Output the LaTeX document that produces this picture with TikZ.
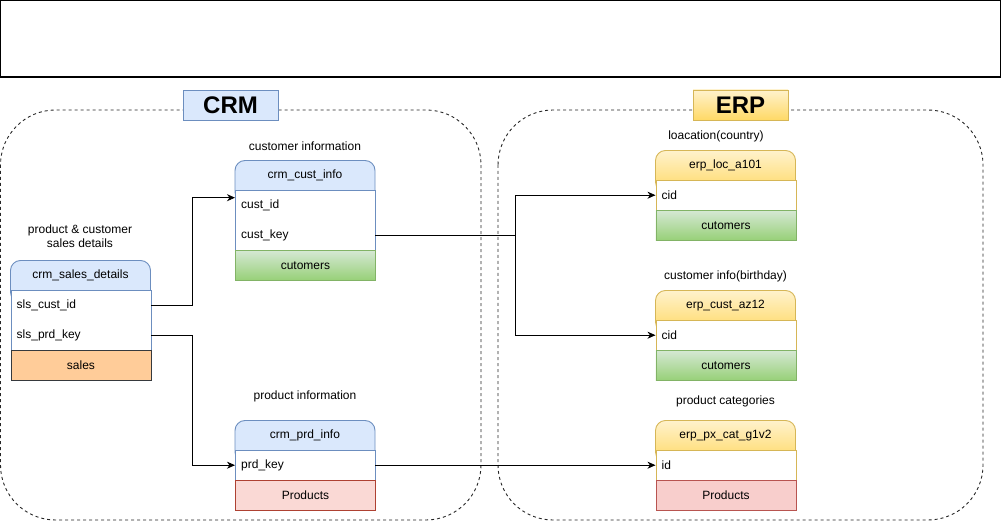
\documentclass[tikz,border=0pt]{standalone}
\usepackage{fontspec}
\setmainfont{Liberation Sans}
\usetikzlibrary{arrows.meta,calc}
\definecolor{blueF}{HTML}{DAE8FC}
\definecolor{blueS}{HTML}{6C8EBF}
\definecolor{greenT}{HTML}{D5E8D4}
\definecolor{greenB}{HTML}{97D077}
\definecolor{greenS}{HTML}{82B366}
\definecolor{yelT}{HTML}{FFF2CC}
\definecolor{yelB}{HTML}{FFD966}
\definecolor{yelS}{HTML}{D6B656}
\definecolor{salesF}{HTML}{FFCC99}
\definecolor{salesS}{HTML}{36393D}
\definecolor{prodF}{HTML}{FAD9D5}
\definecolor{prodS}{HTML}{AE4132}
\definecolor{prod2F}{HTML}{F8CECC}
\definecolor{prod2S}{HTML}{B85450}
\begin{document}
\begin{tikzpicture}[x=1pt,y=-1pt,
  every node/.style={font=\fontsize{12}{14}\selectfont, text=black},
  container/.style={draw=black!85, line width=0.9pt, dash pattern=on 3pt off 3pt, rounded corners=55pt},
  grouptitle/.style={minimum width=95pt, minimum height=30pt, inner sep=0pt, line width=0.9pt, font=\bfseries\fontsize{24}{28}\selectfont},
  hdrblue/.style={fill=blueF, draw=blueS, line width=0.9pt, rounded corners=10pt},
  hdryel/.style={top color=yelT, bottom color=yelB, draw=yelS, line width=0.9pt, rounded corners=10pt},
  tbody/.style={fill=white, line width=0.9pt, minimum width=140pt, inner sep=0pt, anchor=north west},
  rowtxt/.style={minimum width=140pt, minimum height=30pt, text width=128pt, inner xsep=6pt, inner ysep=0pt, align=left, anchor=north west},
  foot/.style={minimum width=140pt, minimum height=30pt, inner sep=0pt, line width=0.9pt, anchor=north west},
  footgreen/.style={foot, top color=greenT, bottom color=greenB, draw=greenS},
  ttl/.style={inner sep=0pt},
  lbl/.style={inner sep=0pt, align=center},
  conn/.style={line width=0.9pt, -{Stealth[length=8pt,width=7pt,inset=2.5pt]}},
  plain/.style={line width=0.9pt}
]
\useasboundingbox (0,0) rectangle (1001,521);
% top empty box
\draw[line width=1.3pt] (0.7,0.7) rectangle (1000.3,77) node[pos=0.5, inner sep=0pt] (topbox) {};

% containers
\draw[container] (0.5,110) rectangle (481,520);
\draw[container] (498,110) rectangle (983,520);
\node[grouptitle, fill=blueF, draw=blueS] (crm) at (230.5,105) {CRM};
\node[grouptitle, top color=yelT, bottom color=yelB, draw=yelS] (erp) at (740.5,105) {ERP};

% ---------- crm_cust_info
\node[lbl] (lbl_cust) at (305,146) {customer information};
\path[hdrblue] (235,160.5) rectangle (375,202);
\node[tbody, draw=blueS, minimum height=60pt] (cust_body) at (235,190) {};
\node[ttl] (cust_info) at (305,175.5) {crm\_cust\_info};
\node[rowtxt] (cust_id) at (235,190) {cust\_id};
\node[rowtxt] (cust_key) at (235,220) {cust\_key};
\node[footgreen] (cust_foot) at (235,250) {cutomers};

% ---------- crm_sales_details
\node[lbl] (lbl_sales) at (80,236) {product \& customer\\sales details};
\path[hdrblue] (10.5,260.5) rectangle (150.5,302);
\node[tbody, draw=blueS, minimum height=60pt] (sales_body) at (10.5,290) {};
\node[ttl] (sales_details) at (80.5,275.5) {crm\_sales\_details};
\node[rowtxt] (sls_cust_id) at (10.5,290) {sls\_cust\_id};
\node[rowtxt] (sls_prd_key) at (10.5,320) {sls\_prd\_key};
\node[foot, fill=salesF, draw=salesS] (sales_foot) at (10.5,350) {sales};

% ---------- crm_prd_info
\node[lbl] (lbl_prd) at (305,396) {product information};
\path[hdrblue] (235,420.5) rectangle (375,462);
\node[tbody, draw=blueS, minimum height=30pt] (prd_body) at (235,450) {};
\node[ttl] (prd_info) at (305,435.5) {crm\_prd\_info};
\node[rowtxt] (prd_key) at (235,450) {prd\_key};
\node[foot, fill=prodF, draw=prodS] (prd_foot) at (235,480) {Products};

% ---------- erp_loc_a101
\node[lbl] (lbl_loc) at (716,136) {loacation(country)};
\path[hdryel] (655.5,150.5) rectangle (795.5,192);
\node[tbody, draw=yelS, minimum height=30pt] (loc_body) at (655.5,180) {};
\node[ttl] (loc) at (725.5,165.5) {erp\_loc\_a101};
\node[rowtxt] (loc_cid) at (655.5,180) {cid};
\node[footgreen] (loc_foot) at (655.5,210) {cutomers};

% ---------- erp_cust_az12
\node[lbl] (lbl_az) at (725.5,276) {customer info(birthday)};
\path[hdryel] (655.5,290.5) rectangle (795.5,332);
\node[tbody, draw=yelS, minimum height=30pt] (az_body) at (655.5,320) {};
\node[ttl] (az) at (725.5,305.5) {erp\_cust\_az12};
\node[rowtxt] (az_cid) at (655.5,320) {cid};
\node[footgreen] (az_foot) at (655.5,350) {cutomers};

% ---------- erp_px_cat_g1v2
\node[lbl] (lbl_px) at (725.5,401) {product categories};
\path[hdryel] (655.5,420.5) rectangle (795.5,462);
\node[tbody, draw=yelS, minimum height=30pt] (px_body) at (655.5,450) {};
\node[ttl] (px) at (725.5,435.5) {erp\_px\_cat\_g1v2};
\node[rowtxt] (px_id) at (655.5,450) {id};
\node[foot, fill=prod2F, draw=prod2S] (px_foot) at (655.5,480) {Products};

% ---------- connectors
\draw[conn] (sls_cust_id.east) -- ++(42,0) |- ($(cust_id.west)+(0,-7.5)$);
\draw[conn] (sls_prd_key.east) -- ++(42,0) |- (prd_key.west);
\coordinate (split) at ($(cust_key.east)+(140.5,0)$);
\draw[conn] (cust_key.east) -- (split) |- (loc_cid.west);
\draw[conn] (split) |- (az_cid.west);
\draw[conn] (prd_key.east) -- (px_id.west);
\end{tikzpicture}
\end{document}
